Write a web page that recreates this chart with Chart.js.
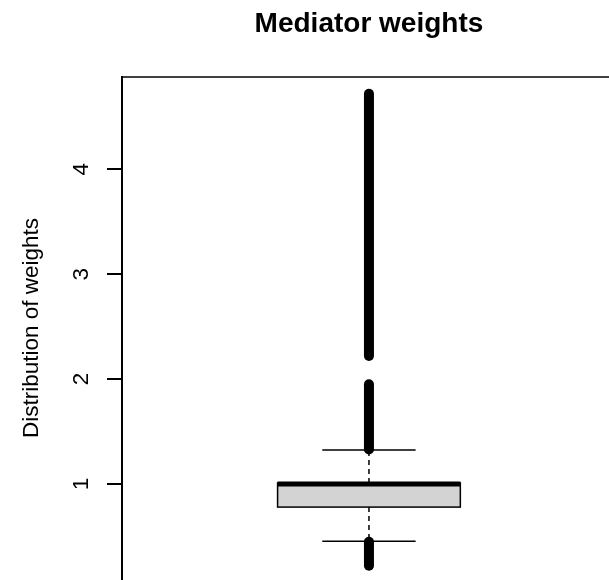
<!DOCTYPE html>
<html>
<head>
<meta charset="utf-8">
<script src="https://cdn.jsdelivr.net/npm/chart.js@4.4.1/dist/chart.umd.min.js"></script>
<style>
  html, body { margin: 0; padding: 0; background: #ffffff; overflow: hidden; }
  #wrap { width: 609px; height: 580px; }
</style>
</head>
<body>
<div id="wrap"><canvas id="chart" width="609" height="580"></canvas></div>
<script>
// Box plot of the mediator weights (one group)
const groups = ['weights'];
const whiskerLow = [0.454];
const q1 = [0.78];
const median = [1.0];
const q3 = [1.01];
const whiskerHigh = [1.324];
// dense runs of outlying weights: [lowest, highest] per run
const outlierRuns = [[0.22, 0.45], [1.33, 1.95], [2.22, 4.72]];
const yTicks = [1, 2, 3, 4];
const titleText = 'Mediator weights';
const yTitle = 'Distribution of weights';

const FONT = '"Liberation Sans", Arial, Helvetica, sans-serif';
const BOX_HALF = 0.185;     // half box width in x units
const STAPLE_HALF = 0.0945; // half whisker-cap width in x units

const boxPlot = {
  id: 'boxPlot',
  afterDatasetsDraw(chart) {
    const { ctx, chartArea, scales: { x, y } } = chart;
    ctx.save();
    // top frame line
    ctx.strokeStyle = '#000';
    ctx.lineWidth = 1.5;
    ctx.beginPath();
    ctx.moveTo(chartArea.left, chartArea.top);
    ctx.lineTo(chartArea.right, chartArea.top);
    ctx.stroke();

    groups.forEach((g, i) => {
      const cx = x.getPixelForValue(i + 1);
      const bl = x.getPixelForValue(i + 1 - BOX_HALF);
      const br = x.getPixelForValue(i + 1 + BOX_HALF);
      const sl = x.getPixelForValue(i + 1 - STAPLE_HALF);
      const sr = x.getPixelForValue(i + 1 + STAPLE_HALF);
      const yQ1 = y.getPixelForValue(q1[i]);
      const yQ3 = y.getPixelForValue(q3[i]);
      const yMed = y.getPixelForValue(median[i]);
      const yLo = y.getPixelForValue(whiskerLow[i]);
      const yHi = y.getPixelForValue(whiskerHigh[i]);

      // dashed whiskers
      ctx.strokeStyle = '#000';
      ctx.lineWidth = 1.5;
      ctx.setLineDash([5, 4]);
      ctx.beginPath();
      ctx.moveTo(cx, yQ3); ctx.lineTo(cx, yHi);
      ctx.moveTo(cx, yQ1); ctx.lineTo(cx, yLo);
      ctx.stroke();
      ctx.setLineDash([]);

      // whisker caps
      ctx.beginPath();
      ctx.moveTo(sl, yHi); ctx.lineTo(sr, yHi);
      ctx.moveTo(sl, yLo); ctx.lineTo(sr, yLo);
      ctx.stroke();

      // box
      ctx.fillStyle = '#d3d3d3';
      ctx.fillRect(bl, yQ3, br - bl, yQ1 - yQ3);
      ctx.lineWidth = 1.5;
      ctx.strokeRect(bl, yQ3, br - bl, yQ1 - yQ3);

      // median
      ctx.lineWidth = 5;
      ctx.beginPath();
      ctx.moveTo(bl, yMed); ctx.lineTo(br, yMed);
      ctx.stroke();

      // outliers (overlapping open circles form solid runs)
      ctx.lineCap = 'round';
      ctx.lineWidth = 10;
      outlierRuns.forEach(([lo, hi]) => {
        ctx.beginPath();
        ctx.moveTo(cx, y.getPixelForValue(lo));
        ctx.lineTo(cx, y.getPixelForValue(hi));
        ctx.stroke();
      });
      ctx.lineCap = 'butt';
    });
    ctx.restore();
  },
  afterDraw(chart) {
    const { ctx, scales: { x, y } } = chart;
    ctx.save();
    ctx.fillStyle = '#000';
    // main title
    ctx.font = 'bold 28px ' + FONT;
    ctx.textAlign = 'center';
    ctx.textBaseline = 'alphabetic';
    ctx.fillText(titleText, x.getPixelForValue(1), 32);

    // rotated tick labels
    ctx.font = '22.5px ' + FONT;
    yTicks.forEach(v => {
      ctx.save();
      ctx.translate(88, y.getPixelForValue(v));
      ctx.rotate(-Math.PI / 2);
      ctx.fillText(String(v), 0, 0);
      ctx.restore();
    });

    // y-axis title
    ctx.save();
    ctx.translate(38, 328);
    ctx.rotate(-Math.PI / 2);
    ctx.fillText(yTitle, 0, 0);
    ctx.restore();
    ctx.restore();
  }
};

new Chart(document.getElementById('chart'), {
  type: 'scatter',
  data: { datasets: [{ label: 'weights', data: [], pointRadius: 0 }] },
  options: {
    responsive: false,
    animation: false,
    layout: { padding: { top: 77, left: 0, right: 0, bottom: 0 } },
    plugins: { legend: { display: false }, tooltip: { enabled: false }, title: { display: false } },
    scales: {
      x: { type: 'linear', display: false, min: 0.5, max: 1.486 },
      y: {
        type: 'linear',
        min: 0.085,
        max: 4.88,
        afterBuildTicks: s => { s.ticks = yTicks.map(v => ({ value: v })); },
        afterFit: s => { s.width = 122; },
        ticks: { display: false },
        grid: { drawOnChartArea: false, drawTicks: true, tickLength: 15, color: '#000', lineWidth: 2 },
        border: { display: true, color: '#000', width: 2 }
      }
    }
  },
  plugins: [boxPlot]
});
</script>
</body>
</html>
